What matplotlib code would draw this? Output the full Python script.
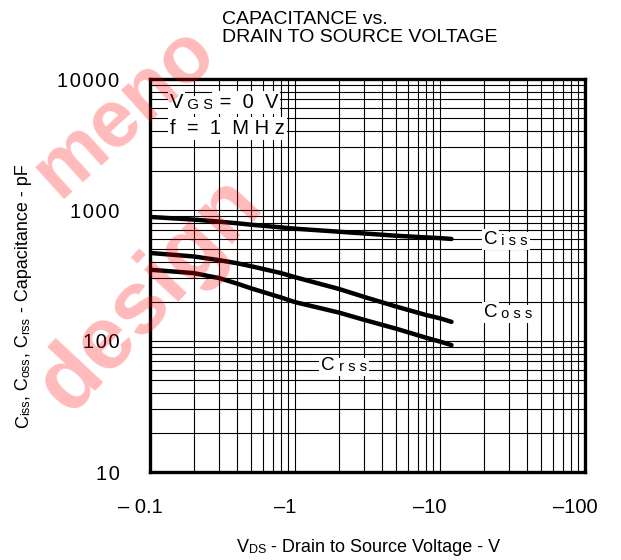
import numpy as np
import matplotlib
matplotlib.use("Agg")
import matplotlib.pyplot as plt
from matplotlib.ticker import LogLocator, NullFormatter
import matplotlib.transforms as mtransforms

plt.rcParams['font.family'] = ['Liberation Sans', 'DejaVu Sans']

# -VDS magnitude (V) and capacitances (pF)
vds = [0.1, 0.2, 0.3, 0.4, 0.5, 0.8, 1, 2, 3, 5, 8, 10, 12]
ciss = [885, 845, 815, 792, 772, 737, 720, 683, 662, 636, 618, 610, 601]
coss = [470, 442, 414, 392, 372, 330, 307, 250, 217, 183, 158, 149, 140]
crss = [350, 330, 302, 274, 252, 215, 198, 165, 145, 124, 106, 99, 93]

xticks = [0.1, 1, 10, 100]
xticklabels = ['\u2013 0.1', '\u20131', '\u201310', '\u2013100']
yticks = [10, 100, 1000, 10000]
yticklabels = ['10', '100', '1000', '10000']

W, H = 621, 560
fig = plt.figure(figsize=(W / 100, H / 100), dpi=100)
ax = fig.add_axes([150 / W, 1 - 472 / H, 435 / W, 393 / H])
ax.set_xscale('log')
ax.set_yscale('log')
ax.set_xlim(0.1, 100)
ax.set_ylim(10, 10000)

ax.xaxis.set_minor_locator(LogLocator(base=10, subs=np.arange(2, 10)))
ax.yaxis.set_minor_locator(LogLocator(base=10, subs=np.arange(2, 10)))
ax.xaxis.set_minor_formatter(NullFormatter())
ax.yaxis.set_minor_formatter(NullFormatter())
ax.grid(True, which='both', color='black', linewidth=0.8)
ax.set_axisbelow(True)
ax.tick_params(which='both', length=0)
ax.tick_params(axis='x', pad=19, labelsize=14.5)
ax.tick_params(axis='y', pad=22, labelsize=14.5)
ax.set_xticks(xticks)
ax.set_xticklabels(xticklabels)
ax.set_yticks(yticks)
ax.set_yticklabels(['\u200a'.join(s) for s in yticklabels])
shift = mtransforms.ScaledTranslation(-0.10, 0, fig.dpi_scale_trans)
for lab in ax.get_xticklabels():
    lab.set_transform(lab.get_transform() + shift)
for sp in ax.spines.values():
    sp.set_linewidth(2.4)

for c in (ciss, coss, crss):
    ax.plot(vds, c, color='black', linewidth=3.2, solid_capstyle='round',
            solid_joinstyle='round', zorder=3)


def rich(x, y, parts, transform, box=False):
    # pieces of text set one after another on a common baseline
    bb = dict(facecolor='white', edgecolor='none', pad=1.5) if box else None
    t = fig.text(x, y, parts[0][0], fontsize=parts[0][1], transform=transform,
                 ha='left', va='bottom', bbox=bb, zorder=5)
    for s, fs in parts[1:]:
        t = ax.annotate(s, xy=(1, 0), xycoords=t, fontsize=fs,
                        ha='left', va='bottom', bbox=bb, zorder=5,
                        annotation_clip=False)
    return t


def rich_v(x, y, parts):
    t = fig.text(x, y, parts[0][0], fontsize=parts[0][1], rotation=90,
                 ha='right', va='bottom', transform=fig.transFigure)
    for s, fs in parts[1:]:
        t = ax.annotate(s, xy=(1, 1), xycoords=t, fontsize=fs, rotation=90,
                        ha='right', va='bottom', annotation_clip=False)
    return t


px = fig.transFigure
# title
fig.text(222 / W, 1 - 46 / H, 'CAPACITANCE vs.\nDRAIN TO SOURCE VOLTAGE',
         fontsize=14, ha='left', va='bottom', linespacing=1.05)

# conditions box
rich(170 / W, 1 - 112 / H, [('V', 14.5), (' G S', 11), (' =  0  V', 14.5)], px, box=True)
rich(170 / W, 1 - 138 / H, [('f  =  1  M H z', 14.5)], px, box=True)

# curve labels
dtr = ax.transData
rich(20, 510, [('C', 13.5), (' i s s', 10.5)], dtr, box=True)
rich(20, 142, [('C', 13.5), (' o s s', 10.5)], dtr, box=True)
rich(1.52, 56, [('C', 13.5), (' r s s', 10.5)], dtr, box=True)

# axis labels
rich(237 / W, 1 - 556 / H, [('V', 13), ('DS', 9), (' - Drain to Source Voltage - V', 13)], px)
rich_v(32 / W, 1 - 428 / H, [('C', 13), ('iss', 9), (', C', 13), ('oss', 9), (', C', 13),
                            ('rss', 9), (' - Capacitance - pF', 13)])

# watermark
wm = (1.0, 0.0, 0.0, 0.27)
fig.text(125 / W, 1 - 112 / H, 'meno', fontsize=58, fontweight='bold', color=wm,
         rotation=42, ha='center', va='center', rotation_mode='anchor', zorder=10)
fig.text(150 / W, 1 - 295 / H, 'design', fontsize=64, fontweight='bold', color=wm,
         rotation=47, ha='center', va='center', rotation_mode='anchor', zorder=10)

fig.savefig('out.png', dpi=100)
